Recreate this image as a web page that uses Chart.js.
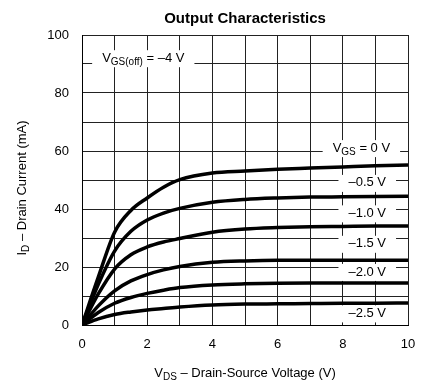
<!DOCTYPE html>
<html>
<head>
    <meta charset='utf-8'>
    <title>Output Characteristics</title>
    <style>
        body { margin: 0; background: #fff; }
        #wrap { width: 437px; height: 392px; }
    </style>
</head>
<body>
    <div id="wrap"><canvas id="myChart"></canvas></div>

    <script src="https://cdn.jsdelivr.net/npm/chart.js"></script>
    <script>
const chartTitle = 'Output Characteristics';

// drain-source voltage (V) samples
const vds = [0, 0.5, 1, 1.5, 2, 2.5, 3, 4, 5, 6, 7, 8, 9, 10];

// drain current (mA) per gate voltage
const id_0v   = [0, 16.5, 32, 39.5, 43.8, 47.5, 50.1, 52.4, 53.1, 53.7, 54.1, 54.5, 54.9, 55.2];
const id_m05v = [0, 14, 25.5, 32.3, 36.2, 38.6, 40.2, 42.3, 43.3, 43.8, 44.1, 44.2, 44.3, 44.4];
const id_m10v = [0, 10.7, 19.3, 24.2, 26.9, 28.6, 29.8, 32, 33.1, 33.6, 33.9, 34, 34.1, 34.1];
const id_m15v = [0, 6.6, 11.8, 15.2, 17.4, 19, 20.2, 21.6, 22.1, 22.3, 22.3, 22.3, 22.3, 22.3];
const id_m20v = [0, 4.3, 7.5, 9.5, 10.9, 12, 12.9, 13.8, 14.2, 14.4, 14.5, 14.5, 14.5, 14.5];
const id_m25v = [0, 2.1, 3.6, 4.5, 5.2, 5.7, 6.2, 6.9, 7.2, 7.3, 7.4, 7.5, 7.5, 7.6];

const series = [id_0v, id_m05v, id_m10v, id_m15v, id_m20v, id_m25v];

// curve labels: [subscript, rest of text, x, y]
const curveLabels = [
    ['GS', ' = 0 V', 8.57, 61],
    ['', '\u20130.5 V', 8.75, 49],
    ['', '\u20131.0 V', 8.75, 38.5],
    ['', '\u20131.5 V', 8.75, 28],
    ['', '\u20132.0 V', 8.75, 18.3],
    ['', '\u20132.5 V', 8.75, 4]
];
const offLabel = ['GS(off)', ' = \u20134 V', 1.88, 92];

const FONT = "'Liberation Sans', Arial, Helvetica, sans-serif";

// draw main + subscript + rest, centred at (cx, cy)
function subText(ctx, sub, rest, cx, cy, size, main) {
    const big = `${size}px ${FONT}`;
    const small = `${Math.round(size * 0.75)}px ${FONT}`;
    ctx.font = big;
    const w1 = main ? ctx.measureText(main).width : 0;
    const w3 = ctx.measureText(rest).width;
    ctx.font = small;
    const w2 = sub ? ctx.measureText(sub).width : 0;
    const total = w1 + w2 + w3;
    let x = cx - total / 2;
    ctx.textBaseline = 'middle';
    ctx.textAlign = 'left';
    ctx.fillStyle = '#000';
    if (main) {
        ctx.font = big;
        ctx.fillText(main, x, cy);
        x += w1;
    }
    if (sub) {
        ctx.font = small;
        ctx.fillText(sub, x, cy + size * 0.3);
        x += w2;
    }
    ctx.font = big;
    ctx.fillText(rest, x, cy);
    return total;
}

const labelPlugin = {
    id: 'labels',
    beforeDatasetsDraw(chart) {
        const ctx = chart.ctx;
        const xs = chart.scales.x, ys = chart.scales.y;
        ctx.save();
        const all = curveLabels.concat([offLabel]);
        for (const [sub, rest, lx, ly] of all) {
            const cx = xs.getPixelForValue(lx);
            const cy = ys.getPixelForValue(ly);
            const main = sub ? 'V' : '';
            ctx.font = `13px ${FONT}`;
            let w = ctx.measureText(main + rest).width;
            ctx.font = `10px ${FONT}`;
            w += sub ? ctx.measureText(sub).width : 0;
            ctx.fillStyle = '#fff';
            ctx.fillRect(cx - w / 2 - 10, cy - 8, w + 20, 17);
            subText(ctx, sub, rest, cx, cy, 13, main);
        }
        ctx.restore();
    },
    afterDraw(chart) {
        const ctx = chart.ctx;
        const a = chart.chartArea;
        const mid = (a.left + a.right) / 2;
        ctx.save();
        // title
        ctx.font = `bold 15px ${FONT}`;
        ctx.fillStyle = '#000';
        ctx.textAlign = 'center';
        ctx.textBaseline = 'middle';
        ctx.fillText(chartTitle, mid, 19);
        // x axis title
        subText(ctx, 'DS', ' \u2013 Drain-Source Voltage (V)', mid, 373, 13, 'V');
        // y axis title
        ctx.translate(22, (a.top + a.bottom) / 2 + 8);
        ctx.rotate(-Math.PI / 2);
        subText(ctx, 'D', ' \u2013 Drain Current (mA)', 0, 0, 13, 'I');
        ctx.restore();
    }
};

const data = {
    datasets: series.map((s, i) => ({
        label: 'VGS' + i,
        data: vds.map((v, j) => ({ x: v, y: s[j] })),
        borderColor: '#000',
        backgroundColor: '#000',
        borderWidth: 3.5,
        pointRadius: 0,
        cubicInterpolationMode: 'monotone',
        fill: false
    }))
};

const config = {
    type: 'line',
    data: data,
    options: {
        responsive: true,
        maintainAspectRatio: false,
        animation: false,
        layout: { padding: { left: 0, right: 29, top: 35, bottom: 0 } },
        plugins: {
            legend: { display: false },
            tooltip: { enabled: false },
            title: { display: false }
        },
        scales: {
            x: {
                type: 'linear',
                min: 0,
                max: 10,
                afterFit: s => { s.height = 67; },
                grid: { color: '#222', lineWidth: 1, drawTicks: false },
                border: { color: '#000', width: 1 },
                ticks: {
                    stepSize: 1,
                    padding: 12,
                    color: '#000',
                    font: { family: FONT, size: 13 },
                    maxRotation: 0,
                    autoSkip: false,
                    callback: v => v % 2 === 0 ? v : ''
                }
            },
            y: {
                min: 0,
                max: 100,
                afterFit: s => { s.width = 82; },
                grid: { color: '#222', lineWidth: 1, drawTicks: false },
                border: { color: '#000', width: 1 },
                ticks: {
                    stepSize: 10,
                    padding: 13,
                    color: '#000',
                    font: { family: FONT, size: 13 },
                    autoSkip: false,
                    callback: v => v % 20 === 0 ? v : ''
                }
            }
        }
    },
    plugins: [labelPlugin]
};

const chart = new Chart(document.getElementById('myChart'), config);
    </script>
</body>
</html>
